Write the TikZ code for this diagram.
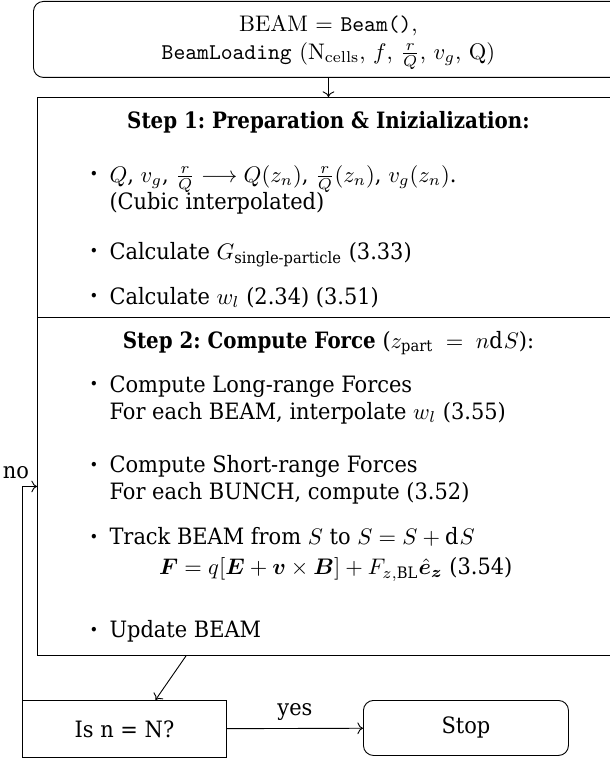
\documentclass[tikz,border=0pt]{standalone}
\usepackage{amsmath,bm}
\usepackage{fontspec}
\setmainfont{DejaVu Serif}[FakeStretch=0.93, BoldFeatures={FakeStretch=0.88}]
\newfontfamily\lmfont{Latin Modern Roman}
\usetikzlibrary{positioning,arrows.meta}

\newlength{\pxu}
\setlength{\pxu}{0.444pt}
\newenvironment{steplist}{%
  \begin{list}{\raisebox{0.2ex}{\scriptsize\textbullet}}{\setlength\leftmargin{32pt}\setlength\labelsep{5pt}%
    \setlength\itemsep{9pt}\setlength\parsep{0pt}\setlength\topsep{6pt}}}%
  {\end{list}}

\begin{document}
\begin{tikzpicture}[
        x=\pxu, y=-\pxu,
        roundbox/.style={draw, rounded corners=10*\pxu, inner sep=0pt},
        stepbox/.style={draw, anchor=north west, inner sep=0pt},
        plainbox/.style={draw, minimum width=204*\pxu, minimum height=57*\pxu}
    ]
        \useasboundingbox (0,0) rectangle (609,758);
        \node[roundbox, anchor=north west] (init) at (33,1)
            {\parbox[c][76\pxu][t]{590\pxu}{\centering\lmfont
             \vspace*{6pt}
             BEAM = \texttt{Beam()},\\[0.5pt]
             \texttt{BeamLoading} (N$_\text{cells}$, $f$, $\frac{r}{Q}$, $v_g$, Q)}};
        \node[stepbox] (step1) at (37,97) {\parbox[c][220\pxu][t]{582\pxu}{%
            \vspace*{6pt}
            \centerline{\bfseries Step 1:\ Preparation \& Inizialization:}
            \vspace{4pt}
            \begin{steplist}
                \item $Q$, $v_g$, $\frac{r}{Q} \longrightarrow Q(z_n)$, $\frac{r}{Q}(z_n)$, $v_g(z_n)$.\\[-1.2pt]
                      (Cubic interpolated)
                \vspace{1pt}
                \item Calculate $G_{\text{single-particle}}$ (3.33)
                \vspace{-1pt}
                \item Calculate $w_l$ (2.34) (3.51)
            \end{steplist}}};
        \node[stepbox] (step2) at (37,317) {\parbox[c][338\pxu][t]{582\pxu}{%
            \vspace*{6pt}
            \centerline{{\bfseries Step 2:\ Compute Force} ($z_{\text{part}} \;=\; n\mathrm{d}S$):}
            \vspace{-0.4pt}
            \begin{steplist}
                \item Compute Long-range Forces\\
                      For each BEAM, interpolate $w_l$ (3.55)
                \vspace{2.6pt}
                \item Compute Short-range Forces\\
                      For each BUNCH, compute (3.52)
                \vspace{-1pt}
                \item Track BEAM from $S$ to $S = S + \mathrm{d}S$\\[1.3pt]
                      \hspace*{22pt}$\bm{F} = q[\bm{E} + \bm{v} \times \bm{B}] + F_{z,\text{BL}}\hat{\bm{e}}_{\bm{z}}$ (3.54)
                \vspace{7pt}
                \item Update BEAM
            \end{steplist}}};
        \node[plainbox, anchor=north west] (check) at (22,700) {Is n = N?};
        \node[plainbox, rounded corners=10*\pxu, minimum width=205*\pxu, minimum height=55*\pxu, anchor=north west] (stop) at (363,700) {Stop};

        \draw[-{To}] (init) -- (step1);
        \draw[-{To}] ([xshift=149*\pxu]step2.south west) -- ([xshift=31*\pxu]check.north);
        \draw[-{To}] (check) -- node[above] {yes} (stop);
        \draw[-{To}] ([yshift=-12*\pxu]check.west) |- node[pos=0.5, above, xshift=-6*\pxu] {no} (step2.west);
    \end{tikzpicture}
\end{document}
